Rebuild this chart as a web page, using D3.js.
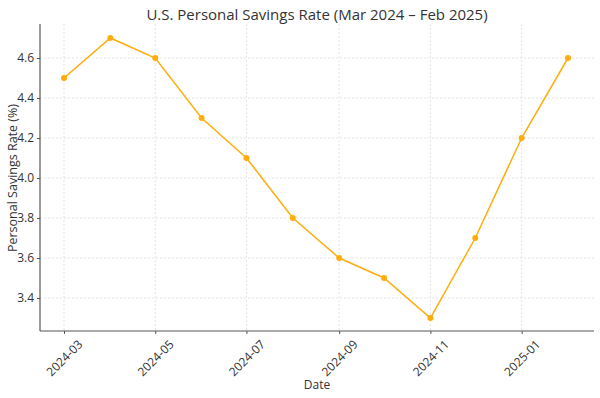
<!DOCTYPE html>
<html>
<head>
<meta charset="utf-8">
<script src="https://cdn.jsdelivr.net/npm/d3@7"></script>
<style>
  body { margin: 0; background: #fff; }
  text { font-family: "Open Sans", sans-serif; fill: #333; }
</style>
</head>
<body>
<div id="chart"></div>
<script>
var months = ["2024-03","2024-04","2024-05","2024-06","2024-07","2024-08",
              "2024-09","2024-10","2024-11","2024-12","2025-01","2025-02"];
var savingsRate = [4.5, 4.7, 4.6, 4.3, 4.1, 3.8, 3.6, 3.5, 3.3, 3.7, 4.2, 4.6];
var yTicks = [3.4, 3.6, 3.8, 4.0, 4.2, 4.4, 4.6];
var xTicks = ["2024-03","2024-05","2024-07","2024-09","2024-11","2025-01"];

function init(){
    var w = 600, h = 398;
    var left = 40, right = 594, top = 24, bottom = 331;
    var parse = d3.timeParse("%Y-%m");

    var data = months.map(function(m, i){
        return {date: parse(m), value: savingsRate[i]};
    });

    var svg = d3.select("#chart").append("svg")
        .attr("width", w).attr("height", h);

    var x = d3.scaleTime()
        .domain([parse("2024-03"), parse("2025-02")])
        .range([64, 568]);
    var y = d3.scaleLinear()
        .domain([3.4, 4.6])
        .range([298, 58]);

    // grid
    svg.append("g").selectAll("line")
        .data(yTicks).enter().append("line")
        .attr("x1", left).attr("x2", right)
        .attr("y1", function(d){ return y(d); })
        .attr("y2", function(d){ return y(d); })
        .attr("stroke", "#ddd").attr("stroke-width", 0.8)
        .attr("stroke-dasharray", "2,2");
    svg.append("g").selectAll("line")
        .data(xTicks).enter().append("line")
        .attr("x1", function(d){ return x(parse(d)); })
        .attr("x2", function(d){ return x(parse(d)); })
        .attr("y1", top).attr("y2", bottom)
        .attr("stroke", "#ddd").attr("stroke-width", 0.8)
        .attr("stroke-dasharray", "2,2");

    // axes
    var xAxis = d3.axisBottom(x)
        .tickValues(xTicks.map(parse))
        .tickFormat(d3.timeFormat("%Y-%m"))
        .tickSize(3).tickSizeOuter(0);
    var gx = svg.append("g")
        .attr("transform", "translate(0," + bottom + ")")
        .call(xAxis);
    gx.select(".domain").remove();
    gx.selectAll(".tick line").attr("stroke", "#555");
    // rotate each label about its centre, like matplotlib's ha=center
    gx.selectAll(".tick text")
        .attr("font-size", 12).attr("fill", "#333")
        .attr("text-anchor", "middle")
        .attr("x", 0).attr("y", 27).attr("dy", "0.35em")
        .attr("transform", "rotate(-45, 0, 27)");
    svg.append("line")
        .attr("x1", left).attr("x2", right)
        .attr("y1", bottom).attr("y2", bottom)
        .attr("stroke", "#555").attr("stroke-width", 1.2);

    var yAxis = d3.axisLeft(y)
        .tickValues(yTicks)
        .tickFormat(d3.format(".1f"))
        .tickSize(3).tickSizeOuter(0);
    var gy = svg.append("g")
        .attr("transform", "translate(" + left + ",0)")
        .call(yAxis);
    gy.select(".domain").remove();
    gy.selectAll(".tick line").attr("stroke", "#555");
    gy.selectAll(".tick text").attr("font-size", 12).attr("fill", "#333");
    svg.append("line")
        .attr("x1", left).attr("x2", left)
        .attr("y1", top).attr("y2", bottom)
        .attr("stroke", "#555").attr("stroke-width", 1.2);

    // line + points
    var line = d3.line()
        .x(function(d){ return x(d.date); })
        .y(function(d){ return y(d.value); });
    svg.append("path")
        .datum(data)
        .attr("d", line)
        .attr("fill", "none")
        .attr("stroke", "#ffad0d")
        .attr("stroke-width", 1.5);
    svg.selectAll("circle")
        .data(data).enter().append("circle")
        .attr("cx", function(d){ return x(d.date); })
        .attr("cy", function(d){ return y(d.value); })
        .attr("r", 3)
        .attr("fill", "#ffad0d");

    // labels
    svg.append("text")
        .attr("x", 317).attr("y", 20)
        .attr("text-anchor", "middle")
        .attr("font-size", 15)
        .text("U.S. Personal Savings Rate (Mar 2024 \u2013 Feb 2025)");
    svg.append("text")
        .attr("x", 317).attr("y", 389)
        .attr("text-anchor", "middle")
        .attr("font-size", 12)
        .text("Date");
    svg.append("text")
        .attr("transform", "translate(17,178) rotate(-90)")
        .attr("text-anchor", "middle")
        .attr("font-size", 12.5)
        .text("Personal Savings Rate (%)");
}
window.onload = init;
</script>
</body>
</html>
